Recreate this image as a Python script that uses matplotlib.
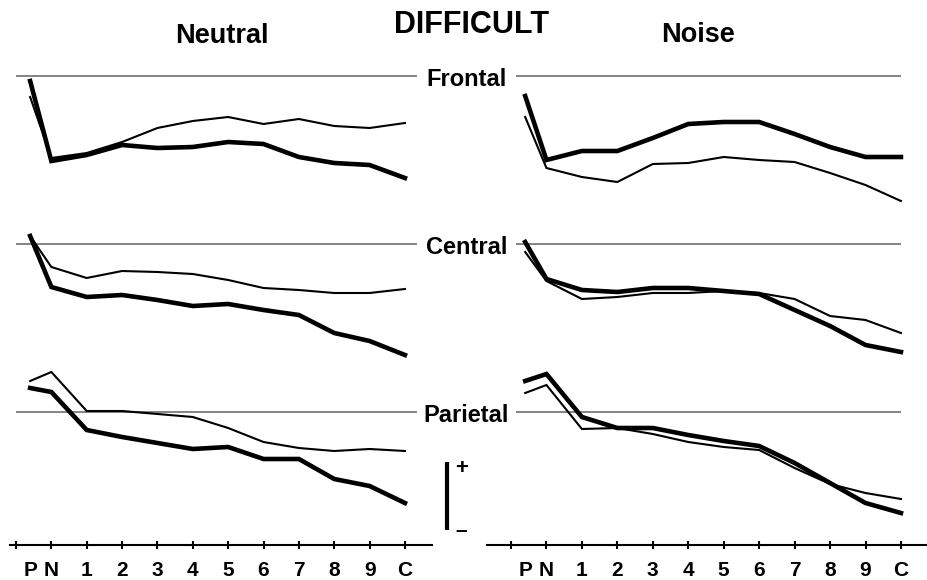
import matplotlib
matplotlib.use("Agg")
import matplotlib.pyplot as plt

plt.rcParams['font.family'] = ['Liberation Sans', 'DejaVu Sans']
plt.rcParams['font.weight'] = 'bold'

conditions = ['P', 'N', '1', '2', '3', '4', '5', '6', '7', '8', '9', 'C']
x_pos = [0.4, 1, 2, 3, 4, 5, 6, 7, 8, 9, 10, 11]
regions = ['Frontal', 'Central', 'Parietal']
region_offset = [0, -16.8, -33.6]

# amplitudes relative to each region's baseline (arbitrary units, + is up)
neutral_frontal_thick = [-0.5, -8.5, -7.9, -6.9, -7.2, -7.1, -6.6, -6.8, -8.1, -8.7, -8.9, -10.2]
neutral_frontal_thin = [-2.1, -8.2, -7.7, -6.6, -5.2, -4.5, -4.1, -4.8, -4.3, -5.0, -5.2, -4.7]
neutral_central_thick = [0.8, -4.3, -5.3, -5.1, -5.6, -6.2, -6.0, -6.6, -7.1, -8.9, -9.7, -11.1]
neutral_central_thin = [0.8, -2.3, -3.4, -2.7, -2.8, -3.0, -3.6, -4.4, -4.6, -4.9, -4.9, -4.5]
neutral_parietal_thick = [2.4, 2.0, -1.8, -2.5, -3.1, -3.7, -3.5, -4.7, -4.7, -6.7, -7.4, -9.1]
neutral_parietal_thin = [3.1, 4.0, 0.1, 0.1, -0.2, -0.5, -1.6, -3.0, -3.6, -3.9, -3.7, -3.9]

noise_frontal_thick = [-2.0, -8.4, -7.5, -7.5, -6.2, -4.8, -4.6, -4.6, -5.8, -7.1, -8.1, -8.1]
noise_frontal_thin = [-4.1, -9.2, -10.1, -10.6, -8.8, -8.7, -8.1, -8.4, -8.6, -9.7, -10.9, -12.5]
noise_central_thick = [0.2, -3.5, -4.6, -4.8, -4.4, -4.4, -4.7, -5.0, -6.6, -8.2, -10.1, -10.8]
noise_central_thin = [-0.8, -3.7, -5.5, -5.3, -4.9, -4.9, -4.7, -4.9, -5.5, -7.2, -7.6, -8.9]
noise_parietal_thick = [3.1, 3.8, -0.5, -1.6, -1.6, -2.3, -2.9, -3.4, -5.1, -7.1, -9.1, -10.1]
noise_parietal_thin = [1.9, 2.7, -1.7, -1.6, -2.2, -3.0, -3.5, -3.8, -5.6, -7.2, -8.1, -8.7]

fig = plt.figure(figsize=(9.28, 5.8), dpi=100)
ax_l = fig.add_axes([0, 0, 0.5, 1])
ax_r = fig.add_axes([0.5, 0, 0.5, 1])

panels = [
    (ax_l, [neutral_frontal_thick, neutral_central_thick, neutral_parietal_thick],
     [neutral_frontal_thin, neutral_central_thin, neutral_parietal_thin],
     (-0.4525, 12.67), (0.0, 11.33), (-0.17, 11.76)),
    (ax_r, [noise_frontal_thick, noise_central_thick, noise_parietal_thick],
     [noise_frontal_thin, noise_central_thin, noise_parietal_thin],
     (-1.326, 11.763), (0.14, 11.0), (-0.68, 11.8)),
]

for ax, thick, thin, xlim, base_span, spine_span in panels:
    ax.set_xlim(*xlim)
    ax.set_ylim(-50.4, 7.6)
    for off, tk, tn in zip(region_offset, thick, thin):
        ax.hlines(off, base_span[0], base_span[1], color='#6e6e6e', lw=1.2)
        ax.plot(x_pos, [v + off for v in tn], color='black', lw=1.5,
                solid_joinstyle='miter')
        ax.plot(x_pos, [v + off for v in tk], color='black', lw=3.3,
                solid_joinstyle='miter')
    for s in ['top', 'left', 'right']:
        ax.spines[s].set_visible(False)
    ax.patch.set_visible(False)
    sp = ax.spines['bottom']
    sp.set_position(('data', -46.9))
    sp.set_bounds(*spine_span)
    sp.set_linewidth(1.5)
    ax.set_yticks([])
    ax.xaxis.remove_overlapping_locs = False
    ax.set_xticks(x_pos, conditions)
    ax.tick_params(axis='x', which='major', length=0, pad=11.5, labelsize=15)
    ax.set_xticks(range(12), minor=True)
    ax.tick_params(axis='x', which='minor', direction='inout', length=6, width=1.5)

# scale bar
ax_l.vlines(12.2, -45.4, -38.6, color='black', lw=3)
ax_l.text(12.59, -39.3, '+', fontsize=16, ha='center', va='center')
ax_l.text(12.59, -45.4, '\u2013', fontsize=15, ha='center', va='center')

fig.text(472 / 928, 1 - 33 / 580, 'DIFFICULT', fontsize=22, ha='center', va='baseline')
fig.text(221.5 / 928, 1 - 43 / 580, 'Neutral', fontsize=19.5, ha='center', va='baseline')
fig.text(698.5 / 928, 1 - 42 / 580, 'Noise', fontsize=19.5, ha='center', va='baseline')
for name, y in zip(regions, [86, 254, 422]):
    fig.text(466.5 / 928, 1 - y / 580, name, fontsize=17, ha='center', va='baseline')

fig.savefig('out.png', dpi=100)
